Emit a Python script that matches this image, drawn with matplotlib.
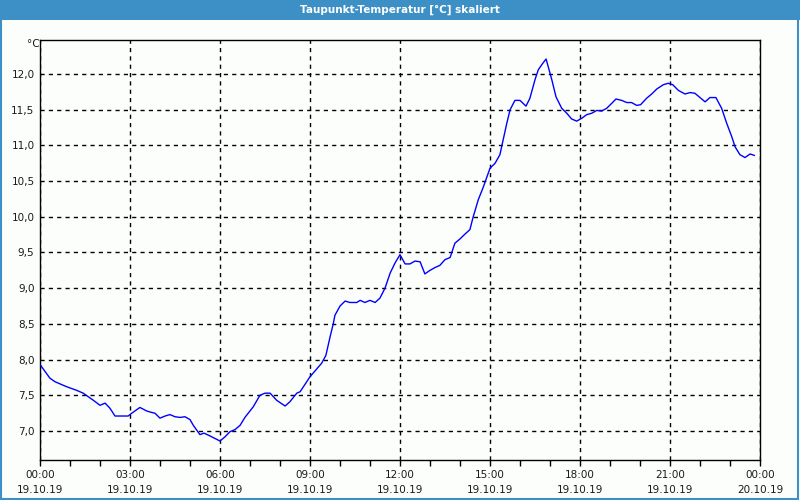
import matplotlib

matplotlib.use("Agg")
import matplotlib.pyplot as plt
from matplotlib.patches import Rectangle
from matplotlib.ticker import FuncFormatter, MultipleLocator

# hours since 19.10.19 00:00 and dew point in °C
hours = [
    0.02, 0.33, 0.50, 0.89, 1.22, 1.44, 1.78, 2.00, 2.17, 2.33, 2.50, 2.94,
    3.06, 3.33, 3.56, 3.72, 3.83, 4.00, 4.17, 4.33, 4.50, 4.67, 4.83, 5.00,
    5.11, 5.33, 5.47, 5.67, 6.00, 6.17, 6.33, 6.50, 6.67, 6.83, 7.11, 7.33,
    7.50, 7.67, 7.89, 8.17, 8.33, 8.56, 8.67, 9.00, 9.39, 9.53, 9.67, 9.78,
    9.83, 10.00, 10.17, 10.33, 10.56, 10.67, 10.83, 11.00, 11.17, 11.33,
    11.50, 11.67, 11.83, 12.00, 12.17, 12.33, 12.50, 12.67, 12.83, 13.00,
    13.17, 13.33, 13.50, 13.67, 13.83, 14.00, 14.17, 14.33, 14.44, 14.61,
    14.78, 14.94, 15.00, 15.17, 15.33, 15.44, 15.56, 15.67, 15.83, 16.00,
    16.20, 16.33, 16.50, 16.61, 16.76, 16.87, 17.06, 17.20, 17.39, 17.56,
    17.72, 17.89, 18.06, 18.22, 18.39, 18.56, 18.72, 18.89, 19.06, 19.20,
    19.39, 19.56, 19.72, 19.89, 20.02, 20.22, 20.39, 20.56, 20.78, 20.94,
    21.09, 21.28, 21.50, 21.67, 21.83, 22.00, 22.17, 22.33, 22.53, 22.72,
    22.89, 23.06, 23.17, 23.33, 23.50, 23.67, 23.81,
]
taupunkt = [
    7.92, 7.74, 7.69, 7.62, 7.57, 7.53, 7.43, 7.36, 7.39, 7.32, 7.21, 7.21,
    7.25, 7.33, 7.28, 7.26, 7.25, 7.18, 7.21, 7.23, 7.20, 7.19, 7.20, 7.16,
    7.08, 6.95, 6.97, 6.93, 6.86, 6.92, 6.99, 7.02, 7.08, 7.19, 7.34, 7.50,
    7.53, 7.53, 7.43, 7.35, 7.41, 7.53, 7.55, 7.76, 7.95, 8.06, 8.32, 8.51,
    8.62, 8.75, 8.82, 8.80, 8.80, 8.83, 8.80, 8.83, 8.80, 8.86,
    9.00, 9.21, 9.35, 9.47, 9.34, 9.34, 9.38, 9.37, 9.20, 9.25,
    9.29, 9.32, 9.40, 9.43, 9.63, 9.69, 9.76, 9.82, 10.00, 10.24,
    10.42, 10.61, 10.68, 10.75, 10.87, 11.08, 11.31, 11.50, 11.63, 11.63,
    11.55, 11.66, 11.92, 12.06, 12.15, 12.21, 11.92, 11.68, 11.52, 11.45,
    11.37, 11.34, 11.38, 11.43, 11.45, 11.49, 11.48, 11.52, 11.59, 11.65,
    11.63, 11.60, 11.60, 11.56, 11.57, 11.66, 11.72, 11.79, 11.85, 11.87,
    11.85, 11.77, 11.72, 11.74, 11.73, 11.67, 11.61, 11.67, 11.67, 11.52,
    11.31, 11.12, 10.98, 10.87, 10.83, 10.88, 10.86,
]

x_ticks = [0, 3, 6, 9, 12, 15, 18, 21, 24]
x_labels = [
    "00:00\n19.10.19", "03:00\n19.10.19", "06:00\n19.10.19", "09:00\n19.10.19",
    "12:00\n19.10.19", "15:00\n19.10.19", "18:00\n19.10.19", "21:00\n19.10.19",
    "00:00\n20.10.19",
]
title = "Taupunkt-Temperatur [°C] skaliert"

bar_color = "#3d90c6"
txt_color = "#1a1a1a"

plt.rcParams["font.family"] = ["DejaVu Sans"]

fig = plt.figure(figsize=(8, 5), dpi=100)
fig.patch.set_facecolor("#fcfefc")

# title bar + thin window border
fig.patches.append(Rectangle((0, 0.96), 1, 0.04, transform=fig.transFigure,
                             facecolor=bar_color, edgecolor="none", zorder=0))
fig.patches.append(Rectangle((0.001, 0.002), 0.997, 0.996, transform=fig.transFigure,
                             facecolor="none", edgecolor=bar_color, linewidth=1.5))
fig.text(0.5, 0.981, title, color="white", fontsize=7.5, fontweight="bold",
         ha="center", va="center")

ax = fig.add_axes([0.05, 0.08, 0.90, 0.84])
ax.set_facecolor("#fcfefc")
ax.plot(hours, taupunkt, color="#0000ff", linewidth=1.0, zorder=3)

ax.set_xlim(0, 24)
ax.set_ylim(6.594, 12.476)

ax.set_xticks(x_ticks)
ax.set_xticklabels(x_labels, fontsize=7.5, color=txt_color, linespacing=1.7)
ax.xaxis.set_minor_locator(MultipleLocator(1))
ax.tick_params(axis="x", which="both", direction="out", length=4, width=1,
               pad=3, color="black")

ax.yaxis.set_major_locator(MultipleLocator(0.5))
ax.yaxis.set_major_formatter(FuncFormatter(lambda v, p: f"{v:.1f}".replace(".", ",")))
ax.tick_params(axis="y", length=0, pad=4, labelsize=7.5, labelcolor=txt_color)

ax.grid(True, color="black", linestyle=(0, (3, 3)), linewidth=1.0)
for s in ax.spines.values():
    s.set_color("black")
    s.set_linewidth(1.0)

fig.text(0.049, 0.912, "°C", fontsize=7.5, color=txt_color, ha="right", va="center")

fig.savefig("out.png", dpi=100, facecolor=fig.get_facecolor())
